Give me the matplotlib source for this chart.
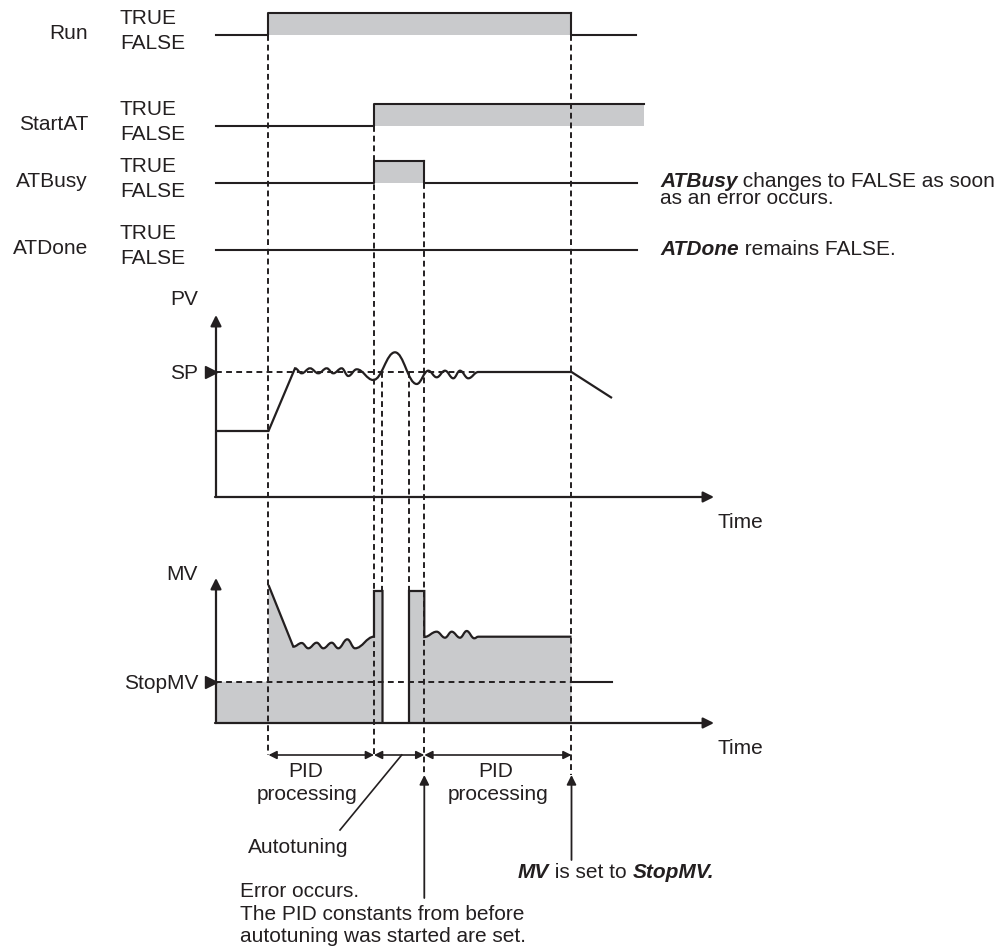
import matplotlib.pyplot as plt
from matplotlib.path import Path
from matplotlib.patches import PathPatch

plt.rcParams['font.family'] = ['Liberation Sans', 'DejaVu Sans']

INK = '#231f20'
GRAY = '#c9cacc'
FS = 15

# ---- digital signals (pixel layout of the timing chart) ----
sig_names = ["Run", "StartAT", "ATBusy", "ATDone"]
sig_low_y = [35, 126, 183, 250]       # FALSE level
sig_rise_x = [268.5, 374, 374, None]
sig_fall_x = [571.5, None, 424.3, None]
sig_end_x = [636, 644, 637, 637]
sig_start_x = 216
high_offset = 22                       # TRUE level is this far above FALSE

# ---- dashed time markers ----
vline_x = [268.5, 374, 382.5, 409, 424.3, 571.5]
vline_top = [35, 126, 372, 372, 183, 35]
vline_bot = [755, 755, 591, 591, 775, 775]

# ---- PV waveform (M=move, L=line, C=smooth wave to next extreme) ----
pv_x = [216, 268.5, 295, 301.7, 310, 318.3, 326.7, 333.3, 341.7, 348.3, 356.7,
        373.3, 395, 416.7, 428.3, 436.7, 445, 453.3, 460, 468.3, 478.3, 571.5, 612]
pv_y = [431, 431, 368.3, 373.3, 368.3, 373.3, 368.3, 373.3, 368.3, 376, 369.3,
        380, 352.3, 384, 370.7, 377.3, 370.7, 378.3, 370.7, 378.3, 372, 372, 398]
pv_seg = ['M', 'L', 'L', 'C', 'C', 'C', 'C', 'C', 'C', 'C', 'C',
          'C', 'C', 'C', 'C', 'C', 'C', 'C', 'C', 'C', 'C', 'L', 'L']
sp_y = 372

# ---- MV waveform, first block (up to the error) ----
mv1_x = [268.5, 293.3, 301.7, 308.3, 316.7, 323.3, 331.7, 338.3, 347.3, 355,
         374, 374, 382.5, 382.5]
mv1_y = [585, 646.7, 643, 648.3, 642.7, 648.3, 642.7, 648.3, 639.3, 648.3,
         636.7, 591, 591, 723]
mv1_seg = ['M', 'L', 'C', 'C', 'C', 'C', 'C', 'C', 'C', 'C',
           'C', 'L', 'L', 'L']
# ---- MV waveform, second block (after the error) ----
mv2_x = [409, 409, 424.3, 424.3, 436.7, 445, 451.7, 460, 466.7, 474.3, 478.3, 571.5]
mv2_y = [723, 591, 591, 637, 631.7, 637.7, 631.7, 637.7, 631, 638.3, 636.7, 636.7]
mv2_seg = ['M', 'L', 'L', 'L', 'C', 'C', 'C', 'C', 'C', 'C', 'C', 'L']
stopmv_y = 681.7
mv_floor = 723


def build_path(xs, ys, segs):
    verts, codes = [], []
    for i, (x, y, s) in enumerate(zip(xs, ys, segs)):
        if s == 'M':
            verts.append((x, y)); codes.append(Path.MOVETO)
        elif s == 'L':
            verts.append((x, y)); codes.append(Path.LINETO)
        else:
            x0, y0 = xs[i - 1], ys[i - 1]
            dx = x - x0
            verts += [(x0 + 0.4 * dx, y0), (x - 0.4 * dx, y), (x, y)]
            codes += [Path.CURVE4] * 3
    return verts, codes


fig = plt.figure(figsize=(10.04, 9.52), dpi=100)
ax = fig.add_axes([0, 0, 1, 1])
ax.set_xlim(0, 1004)
ax.set_ylim(952, 0)
ax.axis('off')

# ---- digital rows ----
for name, low, rx, fx, ex in zip(sig_names, sig_low_y, sig_rise_x, sig_fall_x, sig_end_x):
    high = low - high_offset
    ax.text(88, low + 4, name, ha='right', va='baseline', fontsize=FS, color=INK)
    ax.text(120, low - 11, "TRUE", ha='left', va='baseline', fontsize=FS, color=INK)
    ax.text(120, low + 14, "FALSE", ha='left', va='baseline', fontsize=FS, color=INK)
    if rx is None:
        ax.plot([sig_start_x, ex], [low, low], color=INK, lw=1.5)
        continue
    hi_end = fx if fx is not None else ex
    ax.fill_between([rx, hi_end], high, low, color=GRAY, lw=0)
    xs = [sig_start_x, rx, rx, hi_end]
    ys = [low, low, high, high]
    ax.plot(xs, ys, color=INK, lw=1.5)
    if fx is not None:
        ax.plot([fx, fx, ex], [high, low, low], color=INK, lw=1.5)

# ---- MV fills ----
v1, c1 = build_path(mv1_x, mv1_y, mv1_seg)
fill1 = [(216, stopmv_y), (268.5, stopmv_y)] + v1 + [(216, mv_floor), (216, stopmv_y)]
fcodes1 = [Path.MOVETO, Path.LINETO] + [Path.LINETO] + c1[1:] + [Path.LINETO, Path.CLOSEPOLY]
ax.add_patch(PathPatch(Path(fill1, fcodes1), facecolor=GRAY, edgecolor='none'))
v2, c2 = build_path(mv2_x, mv2_y, mv2_seg)
fill2 = v2 + [(571.5, mv_floor), (409, mv_floor)]
fcodes2 = c2 + [Path.LINETO, Path.CLOSEPOLY]
ax.add_patch(PathPatch(Path(fill2, fcodes2), facecolor=GRAY, edgecolor='none'))

# ---- dashed markers ----
for x, t, b in zip(vline_x, vline_top, vline_bot):
    ax.plot([x, x], [t, b], color=INK, lw=1.4, ls=(0, (3, 2)))
ax.plot([216, 571.5], [sp_y, sp_y], color=INK, lw=1.4, ls=(0, (3, 2.2)))
ax.plot([216, 571.5], [stopmv_y, stopmv_y], color=INK, lw=1.4, ls=(0, (3, 2.2)))

# ---- curves ----
vp, cp = build_path(pv_x, pv_y, pv_seg)
ax.add_patch(PathPatch(Path(vp, cp), facecolor='none', edgecolor=INK, lw=1.6))
ax.add_patch(PathPatch(Path(v1, c1), facecolor='none', edgecolor=INK, lw=1.6))
ax.add_patch(PathPatch(Path(v2, c2), facecolor='none', edgecolor=INK, lw=1.6))
ax.plot([571.5, 612], [stopmv_y, stopmv_y], color=INK, lw=1.5)

# ---- axes of the analog plots ----
arrow = dict(arrowstyle='-|>', color=INK, lw=1.6, mutation_scale=16, shrinkA=0, shrinkB=0)
for base, top in [(497, 315), (723, 578)]:
    ax.annotate('', xy=(216, top), xytext=(216, base), arrowprops=arrow)
    ax.annotate('', xy=(714, base), xytext=(215, base), arrowprops=arrow)
    ax.text(718, base + 31, "Time", ha='left', va='baseline', fontsize=FS, color=INK)
ax.plot([211, 211], [sp_y, stopmv_y], ls='none', marker='>', ms=8, color=INK)

ax.text(198, 305, "PV", ha='right', va='baseline', fontsize=FS, color=INK)
ax.text(198, 379, "SP", ha='right', va='baseline', fontsize=FS, color=INK)
ax.text(198, 580, "MV", ha='right', va='baseline', fontsize=FS, color=INK)
ax.text(198, 689, "StopMV", ha='right', va='baseline', fontsize=FS, color=INK)

# ---- dimension arrows ----
dim = dict(arrowstyle='<|-|>', color=INK, lw=1.2, mutation_scale=12, shrinkA=0, shrinkB=0)
for a, b in [(268.5, 374), (374, 424.3), (424.3, 571.5)]:
    ax.annotate('', xy=(b, 755), xytext=(a, 755), arrowprops=dim)

ax.text(306, 777, "PID", ha='center', va='baseline', fontsize=FS, color=INK)
ax.text(307, 800, "processing", ha='center', va='baseline', fontsize=FS, color=INK)
ax.text(496, 777, "PID", ha='center', va='baseline', fontsize=FS, color=INK)
ax.text(498, 800, "processing", ha='center', va='baseline', fontsize=FS, color=INK)

ax.plot([401.7, 340], [755, 830], color=INK, lw=1.2)
ax.text(298, 853, "Autotuning", ha='center', va='baseline', fontsize=FS, color=INK)

up = dict(arrowstyle='-|>', color=INK, lw=1.3, mutation_scale=14, shrinkA=0, shrinkB=0)
ax.annotate('', xy=(424.3, 775), xytext=(424.3, 898), arrowprops=up)
ax.annotate('', xy=(571.5, 775), xytext=(571.5, 860), arrowprops=up)

ax.text(240, 897, "Error occurs.", ha='left', va='baseline', fontsize=FS, color=INK)
ax.text(240, 920, "The PID constants from before", ha='left', va='baseline', fontsize=FS, color=INK)
ax.text(240, 942, "autotuning was started are set.", ha='left', va='baseline', fontsize=FS, color=INK)

t = ax.text(518, 878, "MV", ha='left', va='baseline', fontsize=FS, color=INK,
            fontweight='bold', fontstyle='italic')
t2 = ax.annotate(" is set to ", xycoords=t, xy=(1, 0), va='bottom', ha='left',
                 fontsize=FS, color=INK)
ax.annotate("StopMV.", xycoords=t2, xy=(1, 0), va='bottom', ha='left',
            fontsize=FS, color=INK, fontweight='bold', fontstyle='italic')

t = ax.text(660, 187, "ATBusy", ha='left', va='baseline', fontsize=FS, color=INK,
            fontweight='bold', fontstyle='italic')
ax.annotate(" changes to FALSE as soon", xycoords=t, xy=(1, 0), va='bottom', ha='left',
            fontsize=FS, color=INK)
ax.text(660, 204, "as an error occurs.", ha='left', va='baseline', fontsize=FS, color=INK)
t = ax.text(660, 255, "ATDone", ha='left', va='baseline', fontsize=FS, color=INK,
            fontweight='bold', fontstyle='italic')
ax.annotate(" remains FALSE.", xycoords=t, xy=(1, 0), va='bottom', ha='left',
            fontsize=FS, color=INK)

fig.savefig("out.png", dpi=100)
